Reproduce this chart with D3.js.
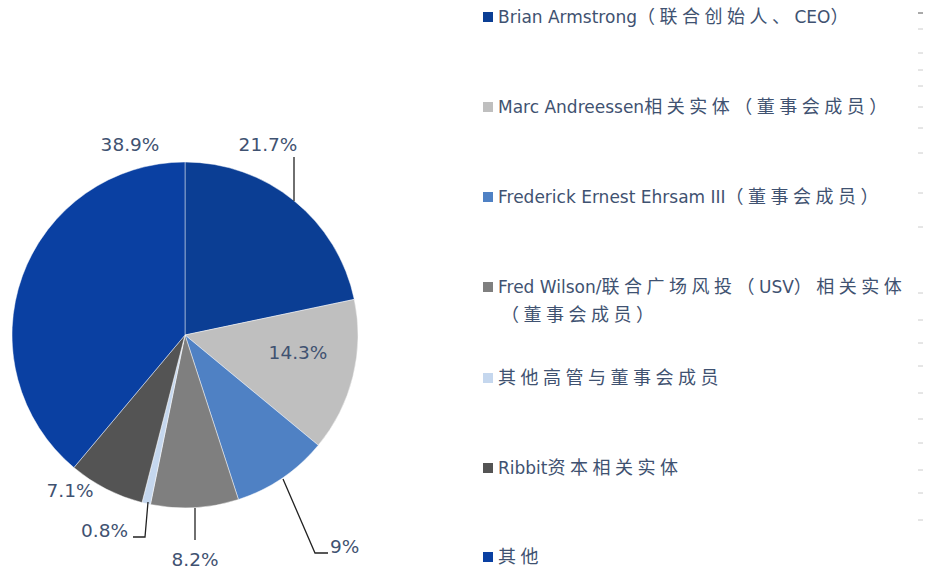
<!DOCTYPE html>
<html lang="zh">
<head>
  <meta charset="utf-8">
  <title>股权结构</title>
  <script src="https://d3js.org/d3.v7.min.js"></script>
  <style>
    body { margin: 0; background: #fff; }
    text { font-family: "DejaVu Sans", Verdana, "Noto Sans CJK SC", sans-serif; }
  </style>
</head>
<body>
<script>
  // data
  var names = ["Brian Armstrong（联合创始人、CEO）",
               "Marc Andreessen相关实体（董事会成员）",
               "Frederick Ernest Ehrsam III（董事会成员）",
               "Fred Wilson/联合广场风投（USV）相关实体|（董事会成员）",
               "其他高管与董事会成员",
               "Ribbit资本相关实体",
               "其他"];
  var shares = [21.7, 14.3, 9, 8.2, 0.8, 7.1, 38.9];
  var labels = ["21.7%", "14.3%", "9%", "8.2%", "0.8%", "7.1%", "38.9%"];
  var colors = ["#0b3e94", "#bfbfbf", "#4f81c4", "#7f7f7f", "#c5d7ee", "#545454", "#0a40a2"];

  var W = 925, H = 573;
  var cx = 185, cy = 335, R = 173;
  var textColor = "#3f5271";

  var svg = d3.select("body").append("svg")
      .attr("width", W).attr("height", H);

  var pie = d3.pie().sort(null).value(function(d) { return d; });
  var arcs = pie(shares);
  var arc = d3.arc().innerRadius(0).outerRadius(R);

  var g = svg.append("g").attr("transform", "translate(" + cx + "," + cy + ")");

  g.selectAll("path")
    .data(arcs)
    .enter().append("path")
    .attr("d", arc)
    .attr("fill", function(d, i) { return colors[i]; })
    .attr("stroke", "rgba(255,255,255,0.45)")
    .attr("stroke-width", 1);

  // label positions relative to pie centre (dx, dy) and leader lines
  var labelPos = [
    [83, -190, "middle"],
    [113, 18, "middle"],
    [145, 212, "start"],
    [10, 225, "middle"],
    [-57, 196, "end"],
    [-115, 156, "middle"],
    [-55, -190, "middle"]
  ];
  var leaders = {
    0: [[109, -178], [109, -134]],
    2: [[98, 144], [130, 218], [143, 218]],
    3: [[10, 173], [10, 205]],
    4: [[-37, 167], [-40, 202], [-52, 202]]
  };

  g.selectAll("text.lbl")
    .data(arcs)
    .enter().append("text")
    .attr("class", "lbl")
    .attr("x", function(d, i) { return labelPos[i][0]; })
    .attr("y", function(d, i) { return labelPos[i][1]; })
    .attr("dy", "0.35em")
    .attr("text-anchor", function(d, i) { return labelPos[i][2]; })
    .attr("font-size", 18.5)
    .attr("fill", textColor)
    .text(function(d, i) { return labels[i]; });

  var line = d3.line();
  Object.keys(leaders).forEach(function(k) {
    g.append("path")
      .attr("d", line(leaders[k]))
      .attr("fill", "none")
      .attr("stroke", "#222")
      .attr("stroke-width", 1.3);
  });

  // legend: CJK runs get extra spacing, like the original
  var legY = [17, 107, 197, 287, 378, 468, 557];
  var leg = svg.append("g");
  names.forEach(function(n, i) {
    leg.append("rect")
      .attr("x", 483).attr("y", legY[i] - 5)
      .attr("width", 10).attr("height", 10)
      .attr("fill", colors[i]);
    var parts = n.split("|");
    parts.forEach(function(p, j) {
      var t = leg.append("text")
        .attr("x", j === 0 ? 498 : 501)
        .attr("y", legY[i] + j * 28)
        .attr("dy", "0.36em")
        .attr("font-size", 17)
        .attr("fill", textColor);
      var runs = p.match(/[\u3000-\u9fff\uff00-\uffef]+|[^\u3000-\u9fff\uff00-\uffef]+/g);
      runs.forEach(function(r) {
        var cjk = /[\u3000-\u9fff\uff00-\uffef]/.test(r);
        t.append("tspan")
          .attr("font-size", cjk ? 18 : 17)
          .attr("letter-spacing", cjk ? 4.5 : 0)
          .text(r);
      });
    });
  });

  // faint axis ticks at the right edge
  var tickYs = [13, 29, 53, 70, 86, 107, 128, 153, 193, 227, 293, 320, 343, 366, 393, 419, 443, 470, 493, 520];
  svg.selectAll("line.tk")
    .data(tickYs)
    .enter().append("line")
    .attr("x1", 918).attr("x2", 923)
    .attr("y1", function(d) { return d; })
    .attr("y2", function(d) { return d; })
    .attr("stroke", function(d, i) { return i === 0 ? "#555" : "#ccc"; })
    .attr("stroke-width", 1);
</script>
</body>
</html>
